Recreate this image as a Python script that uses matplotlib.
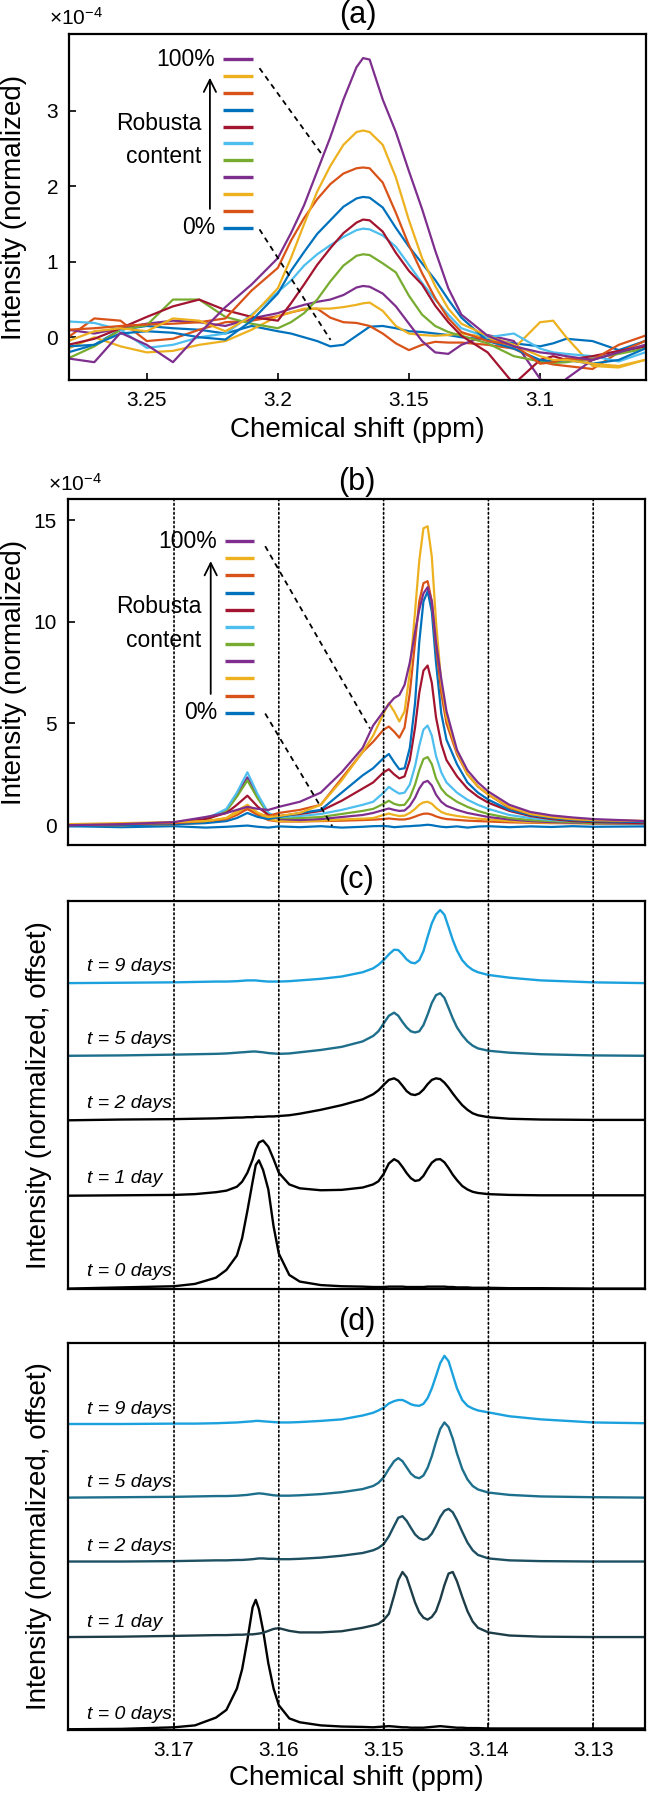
import matplotlib
matplotlib.use('Agg')
import matplotlib.pyplot as plt
from matplotlib.patches import ConnectionPatch

plt.rcParams['font.family'] = ['Liberation Sans', 'DejaVu Sans']
plt.rcParams['mathtext.fontset'] = 'custom'
plt.rcParams['mathtext.rm'] = 'Liberation Sans'
plt.rcParams['mathtext.it'] = 'Liberation Sans:italic'

########## data ##########
# (a) chemical shift grid (ppm) and spectra x1e-4, 0% ... 100% robusta
shift_a = [3.28, 3.27, 3.26, 3.25, 3.24, 3.23, 3.22, 3.21, 3.20, 3.195, 3.19, 3.185, 3.18, 3.175,
           3.17, 3.1675, 3.165, 3.16, 3.155, 3.15, 3.145, 3.14, 3.135, 3.13, 3.12, 3.11, 3.10,
           3.095, 3.09, 3.08, 3.07, 3.06]
a_r000 = [-0.20, -0.10, 0.10, 0.15, 0.12, 0.10, 0.05, 0.15, 0.08, 0.05, 0.00, -0.05, -0.12, -0.10,
          0.02, 0.08, 0.14, 0.15, 0.12, 0.08, 0.07, 0.05, 0.03, 0.00, -0.03, -0.08, -0.12,
          -0.08, -0.02, -0.05, -0.17, -0.05]
a_r010 = [0.00, 0.25, 0.22, -0.05, -0.02, 0.10, 0.20, 0.22, 0.28, 0.33, 0.37, 0.38, 0.26, 0.20,
          0.19, 0.17, 0.15, 0.05, -0.08, -0.17, -0.10, -0.06, -0.07, -0.07, -0.10, -0.15, -0.32,
          -0.36, -0.38, -0.42, -0.20, -0.05]
a_r020 = [-0.15, 0.00, -0.12, -0.20, -0.18, -0.10, -0.05, 0.10, 0.28, 0.33, 0.38, 0.38, 0.38, 0.40,
          0.43, 0.45, 0.46, 0.35, 0.15, 0.05, 0.03, 0.02, 0.03, 0.05, 0.00, -0.15, 0.20,
          0.22, 0.00, -0.38, -0.40, -0.30]
a_r030 = [0.10, 0.05, 0.12, 0.18, 0.22, 0.20, 0.15, 0.25, 0.32, 0.38, 0.43, 0.47, 0.50, 0.56,
          0.66, 0.68, 0.67, 0.58, 0.41, 0.18, -0.05, -0.20, -0.22, -0.10, 0.03, -0.05, -0.55,
          -0.75, -0.55, -0.30, -0.20, -0.12]
a_r040 = [-0.28, -0.12, 0.10, 0.16, 0.50, 0.50, 0.27, 0.18, 0.12, 0.20, 0.32, 0.50, 0.74, 0.95,
          1.08, 1.10, 1.09, 0.98, 0.86, 0.55, 0.30, 0.15, 0.07, 0.02, -0.08, -0.25, -0.32,
          -0.34, -0.33, -0.28, -0.22, -0.15]
a_r050 = [0.21, 0.19, 0.10, -0.14, -0.10, 0.00, 0.05, 0.30, 0.60, 0.75, 0.95, 1.10, 1.22, 1.33,
          1.42, 1.44, 1.43, 1.35, 1.20, 0.96, 0.72, 0.50, 0.30, 0.12, 0.00, 0.05, -0.15,
          -0.20, -0.22, -0.25, -0.32, -0.20]
a_r060 = [-0.10, -0.02, 0.12, 0.27, 0.41, 0.50, 0.36, 0.27, 0.22, 0.45, 0.70, 0.96, 1.18, 1.38,
          1.52, 1.56, 1.55, 1.40, 1.12, 0.88, 0.70, 0.42, 0.20, 0.02, -0.20, -0.62, -0.30,
          -0.25, -0.30, -0.25, -0.18, -0.12]
a_r070 = [-0.12, -0.10, 0.05, 0.08, 0.06, 0.00, -0.03, 0.22, 0.58, 0.88, 1.13, 1.37, 1.55, 1.73,
          1.84, 1.86, 1.85, 1.72, 1.45, 1.20, 0.98, 0.76, 0.50, 0.26, -0.05, -0.15, -0.30,
          -0.32, -0.30, -0.35, -0.30, -0.15]
a_r080 = [0.10, 0.12, 0.15, 0.17, 0.18, 0.20, 0.25, 0.62, 0.92, 1.28, 1.58, 1.83, 2.03, 2.17,
          2.24, 2.25, 2.24, 2.05, 1.65, 1.22, 0.85, 0.52, 0.25, 0.07, -0.05, -0.10, -0.35,
          -0.33, -0.28, -0.30, -0.10, 0.02]
a_r090 = [-0.05, 0.08, 0.12, 0.08, 0.25, 0.22, 0.08, 0.28, 0.65, 1.05, 1.50, 1.93, 2.27, 2.55,
          2.72, 2.74, 2.72, 2.55, 2.12, 1.55, 1.05, 0.68, 0.38, 0.18, 0.02, -0.10, -0.25,
          -0.30, -0.30, -0.35, -0.38, -0.30]
a_r100 = [-0.28, -0.33, 0.06, -0.10, -0.33, 0.05, 0.40, 0.70, 1.05, 1.38, 1.75, 2.20, 2.65, 3.15,
          3.58, 3.70, 3.68, 3.15, 2.72, 2.20, 1.70, 1.15, 0.65, 0.30, 0.02, -0.12, -0.20,
          -0.22, -0.25, -0.30, -0.20, -0.10]

# (b) x1e-4
shift_b = [3.180, 3.175, 3.170, 3.167, 3.165, 3.164, 3.163, 3.162, 3.161, 3.160, 3.158, 3.156,
           3.154, 3.152, 3.151, 3.150, 3.1495, 3.149, 3.1485, 3.148, 3.1475, 3.147, 3.1466,
           3.1462, 3.1458, 3.1454, 3.145, 3.1445, 3.144, 3.143, 3.142, 3.141, 3.140, 3.138,
           3.136, 3.134, 3.132, 3.130, 3.125]
b_r000 = [-0.05, -0.10, -0.05, -0.12, -0.08, -0.05, -0.02, -0.08, -0.12, -0.06, -0.10, -0.05,
          -0.12, -0.08, -0.05, -0.04, -0.06, -0.10, -0.08, -0.06, -0.05, -0.03, -0.02,
          0.00, 0.02, 0.00, -0.04, -0.08, -0.10, -0.06, -0.12, -0.07, -0.05, -0.10,
          -0.06, -0.09, -0.05, -0.08, -0.06]
b_r010 = [0.00, 0.00, 0.05, 0.12, 0.30, 0.55, 0.80, 0.50, 0.25, 0.18, 0.18, 0.20,
          0.22, 0.25, 0.27, 0.30, 0.33, 0.30, 0.28, 0.28, 0.33, 0.42, 0.50,
          0.56, 0.57, 0.52, 0.43, 0.35, 0.30, 0.26, 0.22, 0.20, 0.18, 0.14,
          0.12, 0.10, 0.10, 0.08, 0.08]
b_r020 = [0.00, 0.00, 0.05, 0.15, 0.35, 0.70, 1.00, 0.60, 0.30, 0.20, 0.20, 0.22,
          0.28, 0.32, 0.35, 0.50, 0.57, 0.50, 0.45, 0.47, 0.60, 0.80, 1.00,
          1.12, 1.15, 1.05, 0.85, 0.65, 0.55, 0.45, 0.38, 0.32, 0.28, 0.20,
          0.15, 0.12, 0.10, 0.10, 0.08]
b_r030 = [0.00, 0.02, 0.08, 0.25, 0.75, 1.50, 2.35, 1.40, 0.55, 0.30, 0.25, 0.30,
          0.40, 0.50, 0.60, 0.75, 0.82, 0.75, 0.70, 0.72, 0.95, 1.35, 1.80,
          2.10, 2.18, 1.95, 1.50, 1.15, 0.95, 0.75, 0.60, 0.50, 0.40, 0.28,
          0.20, 0.15, 0.12, 0.10, 0.08]
b_r040 = [0.00, 0.02, 0.08, 0.25, 0.70, 1.40, 2.20, 1.30, 0.55, 0.35, 0.35, 0.40,
          0.55, 0.70, 0.80, 1.05, 1.20, 1.05, 0.98, 1.00, 1.35, 2.00, 2.70,
          3.25, 3.35, 3.00, 2.30, 1.80, 1.50, 1.15, 0.90, 0.70, 0.55, 0.35,
          0.25, 0.20, 0.15, 0.10, 0.10]
b_r050 = [0.00, 0.02, 0.10, 0.30, 0.80, 1.60, 2.60, 1.50, 0.60, 0.40, 0.45, 0.55,
          0.75, 1.00, 1.15, 1.60, 1.88, 1.70, 1.55, 1.60, 2.00, 2.90, 3.90,
          4.70, 4.90, 4.40, 3.40, 2.60, 2.10, 1.60, 1.25, 1.00, 0.80, 0.50,
          0.35, 0.25, 0.20, 0.15, 0.10]
b_r060 = [0.00, 0.05, 0.10, 0.30, 0.60, 1.00, 1.45, 0.90, 0.50, 0.45, 0.55, 0.70,
          1.20, 1.80, 2.10, 2.60, 2.75, 2.50, 2.30, 2.40, 3.20, 4.80, 6.50,
          7.60, 7.85, 7.00, 5.30, 4.00, 3.20, 2.40, 1.80, 1.40, 1.10, 0.70,
          0.45, 0.30, 0.20, 0.15, 0.10]
b_r070 = [-0.05, 0.00, 0.05, 0.10, 0.20, 0.35, 0.60, 0.40, 0.30, 0.40, 0.60, 0.75,
          1.60, 2.45, 2.80, 3.30, 3.50, 3.10, 2.75, 2.80, 3.80, 6.00, 9.00,
          11.0, 11.5, 10.5, 8.00, 5.50, 4.20, 3.00, 2.10, 1.60, 1.25, 0.75,
          0.50, 0.35, 0.25, 0.20, 0.15]
b_r080 = [0.00, 0.05, 0.10, 0.20, 0.30, 0.50, 0.80, 0.55, 0.45, 0.60, 0.75, 1.00,
          2.30, 3.60, 4.10, 4.70, 4.85, 4.60, 4.30, 4.80, 6.50, 9.00, 11.0,
          11.9, 12.0, 11.0, 8.80, 6.50, 5.00, 3.50, 2.50, 1.90, 1.50, 0.85,
          0.55, 0.40, 0.30, 0.25, 0.20]
b_r090 = [0.05, 0.10, 0.15, 0.20, 0.35, 0.60, 0.95, 0.60, 0.40, 0.45, 0.60, 1.00,
          2.20, 3.60, 4.40, 5.50, 6.00, 5.60, 5.10, 5.60, 7.50, 10.5, 13.0,
          14.6, 14.7, 13.2, 10.0, 7.00, 5.30, 3.60, 2.50, 1.90, 1.50, 0.90,
          0.55, 0.40, 0.30, 0.25, 0.20]
b_r100 = [0.00, 0.05, 0.15, 0.40, 0.60, 0.75, 0.90, 0.80, 0.75, 0.90, 1.15, 1.60,
          2.60, 3.80, 4.90, 5.60, 5.95, 6.25, 6.40, 6.90, 8.00, 9.50, 10.6,
          11.4, 11.7, 11.0, 9.00, 7.20, 5.60, 3.70, 2.70, 2.10, 1.65, 1.00,
          0.65, 0.48, 0.38, 0.30, 0.20]

# (c), (d) offset spectra, arbitrary units
shift_cd = [3.180, 3.175, 3.170, 3.168, 3.166, 3.165, 3.164, 3.1635, 3.163, 3.1625,
            3.1622, 3.1619, 3.1615, 3.161, 3.1605, 3.160, 3.159, 3.158, 3.156, 3.154,
            3.152, 3.151, 3.1505, 3.150, 3.1495, 3.149, 3.1486, 3.1482, 3.1478, 3.1474,
            3.147, 3.1466, 3.1462, 3.1458, 3.1454, 3.145, 3.1446, 3.1442, 3.1438, 3.1434,
            3.143, 3.1425, 3.142, 3.1415, 3.141, 3.140, 3.138, 3.135, 3.130, 3.125]
c_t0 = [0.00, 0.03, 0.06, 0.12, 0.28, 0.48, 0.85, 1.30, 2.00, 2.75,
        3.18, 3.30, 3.05, 2.55, 1.60, 0.90, 0.35, 0.18, 0.09, 0.06,
        0.05, 0.04, 0.04, 0.04, 0.05, 0.05, 0.05, 0.05, 0.04, 0.04,
        0.04, 0.04, 0.04, 0.05, 0.05, 0.05, 0.05, 0.05, 0.04, 0.04,
        0.03, 0.03, 0.03, 0.02, 0.02, 0.02, 0.01, 0.01, 0.00, 0.00]
c_t1 = [2.39, 2.40, 2.41, 2.43, 2.48, 2.52, 2.62, 2.75, 2.98, 3.32,
        3.58, 3.76, 3.81, 3.65, 3.33, 2.98, 2.68, 2.58, 2.53, 2.54,
        2.60, 2.68, 2.76, 2.95, 3.22, 3.33, 3.27, 3.13, 2.97, 2.84,
        2.77, 2.79, 2.90, 3.08, 3.24, 3.32, 3.33, 3.25, 3.10, 2.93,
        2.79, 2.64, 2.55, 2.49, 2.46, 2.43, 2.41, 2.40, 2.40, 2.40]
c_t2 = [4.33, 4.35, 4.36, 4.37, 4.38, 4.39, 4.40, 4.40, 4.41, 4.41,
        4.42, 4.42, 4.42, 4.43, 4.43, 4.44, 4.46, 4.50, 4.60, 4.72,
        4.87, 5.00, 5.10, 5.24, 5.37, 5.41, 5.35, 5.22, 5.08, 5.00,
        4.98, 5.02, 5.12, 5.26, 5.37, 5.41, 5.39, 5.30, 5.17, 5.02,
        4.88, 4.72, 4.60, 4.51, 4.46, 4.41, 4.37, 4.35, 4.34, 4.34]
c_t5 = [5.99, 6.00, 6.02, 6.03, 6.04, 6.05, 6.07, 6.08, 6.09, 6.10,
        6.10, 6.09, 6.08, 6.06, 6.05, 6.04, 6.05, 6.08, 6.14, 6.22,
        6.36, 6.50, 6.62, 6.82, 7.02, 7.10, 7.02, 6.86, 6.72, 6.62,
        6.59, 6.62, 6.78, 7.05, 7.35, 7.55, 7.60, 7.48, 7.22, 6.95,
        6.72, 6.52, 6.36, 6.25, 6.18, 6.12, 6.07, 6.03, 6.00, 5.99]
c_t9 = [7.86, 7.87, 7.88, 7.89, 7.90, 7.90, 7.91, 7.92, 7.93, 7.93,
        7.93, 7.92, 7.91, 7.90, 7.90, 7.90, 7.91, 7.93, 7.97, 8.03,
        8.14, 8.24, 8.33, 8.45, 8.60, 8.72, 8.71, 8.60, 8.47, 8.39,
        8.37, 8.45, 8.68, 9.05, 9.40, 9.63, 9.74, 9.62, 9.30, 8.97,
        8.70, 8.45, 8.30, 8.20, 8.14, 8.07, 8.00, 7.93, 7.88, 7.86]
d_t0 = [0.00, 0.01, 0.05, 0.10, 0.30, 0.50, 1.05, 1.55, 2.30, 3.15,
        3.34, 3.10, 2.55, 1.70, 1.05, 0.62, 0.28, 0.18, 0.10, 0.07,
        0.06, 0.05, 0.06, 0.07, 0.08, 0.07, 0.06, 0.05, 0.05, 0.04,
        0.04, 0.04, 0.04, 0.05, 0.06, 0.07, 0.08, 0.07, 0.06, 0.05,
        0.04, 0.04, 0.03, 0.03, 0.03, 0.02, 0.02, 0.02, 0.02, 0.02]
d_t1 = [2.38, 2.39, 2.41, 2.42, 2.43, 2.43, 2.44, 2.44, 2.45, 2.45,
        2.46, 2.47, 2.49, 2.54, 2.59, 2.61, 2.54, 2.50, 2.50, 2.53,
        2.62, 2.68, 2.72, 2.82, 2.98, 3.45, 3.85, 4.06, 3.92, 3.60,
        3.27, 3.02, 2.88, 2.83, 2.90, 3.05, 3.35, 3.72, 4.02, 4.06,
        3.82, 3.42, 3.05, 2.78, 2.62, 2.50, 2.42, 2.39, 2.38, 2.38]
d_t2 = [4.33, 4.33, 4.34, 4.35, 4.36, 4.36, 4.37, 4.37, 4.38, 4.39,
        4.40, 4.41, 4.41, 4.40, 4.40, 4.39, 4.39, 4.40, 4.43, 4.48,
        4.55, 4.62, 4.68, 4.78, 4.98, 5.25, 5.46, 5.50, 5.38, 5.20,
        5.03, 4.93, 4.89, 4.93, 5.05, 5.25, 5.48, 5.64, 5.69, 5.60,
        5.40, 5.10, 4.82, 4.62, 4.50, 4.41, 4.36, 4.34, 4.33, 4.33]
d_t5 = [5.98, 5.99, 6.00, 6.01, 6.02, 6.02, 6.03, 6.04, 6.05, 6.07,
        6.08, 6.09, 6.08, 6.06, 6.04, 6.03, 6.03, 6.04, 6.07, 6.12,
        6.20, 6.28, 6.36, 6.50, 6.72, 6.92, 7.00, 6.92, 6.76, 6.60,
        6.51, 6.48, 6.55, 6.75, 7.05, 7.42, 7.75, 7.92, 7.80, 7.50,
        7.12, 6.72, 6.45, 6.28, 6.19, 6.11, 6.05, 6.01, 5.99, 5.98]
d_t9 = [7.88, 7.88, 7.89, 7.89, 7.90, 7.91, 7.92, 7.93, 7.94, 7.95,
        7.96, 7.96, 7.95, 7.94, 7.93, 7.92, 7.92, 7.93, 7.96, 8.00,
        8.10, 8.17, 8.23, 8.30, 8.41, 8.47, 8.50, 8.50, 8.45, 8.39,
        8.36, 8.35, 8.40, 8.55, 8.80, 9.12, 9.45, 9.64, 9.50, 9.15,
        8.80, 8.50, 8.35, 8.28, 8.23, 8.18, 8.08, 8.00, 7.92, 7.90]

time_labels = ['t = 0 days', 't = 1 day', 't = 2 days', 't = 5 days', 't = 9 days']
grid_lines = [3.17, 3.16, 3.15, 3.14, 3.13]

#### matlab default color order
mat = ['#0072BD', '#D95319', '#EDB120', '#7E2F8E', '#77AC30', '#4DBEEE', '#A2142F']
rob_colors = [mat[i % 7] for i in range(11)]
c_colors = ['#000000', '#000000', '#000000', '#1D6F8C', '#1BA1DE']
d_colors = ['#000000', '#1D3E48', '#1C5062', '#1D6F8C', '#1BA1DE']

spectra_a = [a_r000, a_r010, a_r020, a_r030, a_r040, a_r050, a_r060, a_r070, a_r080, a_r090, a_r100]
spectra_b = [b_r000, b_r010, b_r020, b_r030, b_r040, b_r050, b_r060, b_r070, b_r080, b_r090, b_r100]
spectra_c = [c_t0, c_t1, c_t2, c_t5, c_t9]
spectra_d = [d_t0, d_t1, d_t2, d_t5, d_t9]

##########################################################################################
fig = plt.figure(figsize=(6.48, 17.95), dpi=100)
ax_a = fig.add_axes([0.1071, 0.7883, 0.8898, 0.1928])
ax_b = fig.add_axes([0.1052, 0.5292, 0.8895, 0.1928])
ax_c = fig.add_axes([0.1052, 0.2817, 0.8895, 0.2165])
ax_d = fig.add_axes([0.1052, 0.0362, 0.8895, 0.2158])

LAB = 20
TICK = 15


def frame(ax):
    for s in ax.spines.values():
        s.set_linewidth(1.6)
    ax.tick_params(direction='in', length=5, width=1.2, labelsize=TICK, pad=8,
                   top=False, right=False)


def robusta_key(ax, bx0, bx1, ytop, ybot, txt_x, rob_x, rob_y, con_y, arr_x, arr_top, arr_bot):
    tr = ax.transAxes
    for i, col in enumerate(rob_colors):
        yy = ybot + (ytop - ybot) * i / 10.0
        ax.plot([bx0, bx1], [yy, yy], color=col, lw=2.4, transform=tr, clip_on=False,
                solid_capstyle='butt')
    ax.text(txt_x, ytop, '100%', transform=tr, ha='right', va='center', fontsize=16.5)
    ax.text(txt_x, ybot, '0%', transform=tr, ha='right', va='center', fontsize=16.5)
    ax.text(rob_x, rob_y, 'Robusta', transform=tr, ha='right', va='center', fontsize=16.5)
    ax.text(rob_x, con_y, 'content', transform=tr, ha='right', va='center', fontsize=16.5)
    ax.annotate('', xy=(arr_x, arr_top), xytext=(arr_x, arr_bot), xycoords='axes fraction',
                arrowprops=dict(arrowstyle='->', lw=1.3, color='k', mutation_scale=22))


########## (a)
for i in range(11):
    ax_a.plot(shift_a, spectra_a[i], color=rob_colors[i], lw=1.6, solid_joinstyle='round')
ax_a.set_xlim(3.2795, 3.0596)
ax_a.set_ylim(-0.566, 4.02)
ax_a.set_xticks([3.25, 3.2, 3.15, 3.1])
ax_a.set_xticklabels(['3.25', '3.2', '3.15', '3.1'])
ax_a.set_yticks([0, 1, 2, 3])
frame(ax_a)
ax_a.plot([3.207, 3.1826], [3.566, 2.395], 'k--', lw=1.3, dashes=(3, 2.5))
ax_a.plot([3.207, 3.1799], [1.43, -0.035], 'k--', lw=1.3, dashes=(3, 2.5))
robusta_key(ax_a, 0.2666, 0.3183, 0.9269, 0.4402, 0.2525, 0.2290, 0.741, 0.646,
            0.2437, 0.8815, 0.4864)
ax_a.text(0.5, 1.055, '(a)', transform=ax_a.transAxes, ha='center', va='center', fontsize=22)
ax_a.text(0.012, 1.046, '×10$^{-4}$', transform=ax_a.transAxes, ha='center', va='center',
          fontsize=15)
ax_a.text(-0.096, 0.5, 'Intensity (normalized)', transform=ax_a.transAxes, rotation=90,
          ha='center', va='center', fontsize=LAB)
ax_a.text(0.5, -0.1445, 'Chemical shift (ppm)', transform=ax_a.transAxes, ha='center',
          va='center', fontsize=LAB)

########## (b)
for i in range(11):
    ax_b.plot(shift_b, spectra_b[i], color=rob_colors[i], lw=1.6, solid_joinstyle='round')
ax_b.set_xlim(3.1801, 3.1251)
ax_b.set_ylim(-0.98, 16.04)
ax_b.set_xticks([])
ax_b.set_yticks([0, 5, 10, 15])
frame(ax_b)
ax_b.plot([3.1613, 3.1513], [13.72, 4.75], 'k--', lw=1.3, dashes=(3, 2.5))
ax_b.plot([3.1613, 3.1549], [5.49, -0.05], 'k--', lw=1.3, dashes=(3, 2.5))
robusta_key(ax_b, 0.2724, 0.3226, 0.8786, 0.3824, 0.2580, 0.2316, 0.6888, 0.5925,
            0.2473, 0.8286, 0.4286)
ax_b.text(0.5, 1.049, '(b)', transform=ax_b.transAxes, ha='center', va='center', fontsize=22)
ax_b.text(0.012, 1.043, '×10$^{-4}$', transform=ax_b.transAxes, ha='center', va='center',
          fontsize=15)
ax_b.text(-0.094, 0.5, 'Intensity (normalized)', transform=ax_b.transAxes, rotation=90,
          ha='center', va='center', fontsize=LAB)

########## (c) and (d)
for ax, spectra, cols, off, tag in [(ax_c, spectra_c, c_colors, 0.43, '(c)'),
                                     (ax_d, spectra_d, d_colors, 0.38, '(d)')]:
    for k in range(5):
        ax.plot(shift_cd, spectra[k], color=cols[k], lw=1.7, solid_joinstyle='round')
        ax.text(0.032, spectra[k][0] + off, time_labels[k], transform=ax.get_yaxis_transform(),
                ha='left', va='center', fontsize=14, style='italic')
    ax.set_xlim(3.1801, 3.1251)
    ax.set_ylim(-0.02, 9.98)
    ax.set_yticks([])
    frame(ax)
    ax.text(0.5, 1.054, tag, transform=ax.transAxes, ha='center', va='center', fontsize=22)
    ax.text(-0.0507, 0.5, 'Intensity (normalized, offset)', transform=ax.transAxes,
            rotation=90, ha='center', va='center', fontsize=LAB)
ax_c.set_xticks([])
ax_d.set_xticks(grid_lines)
ax_d.set_xticklabels(['3.17', '3.16', '3.15', '3.14', '3.13'])
ax_d.text(0.5, -0.124, 'Chemical shift (ppm)', transform=ax_d.transAxes, ha='center',
          va='center', fontsize=LAB)

# dotted guide lines running from the top of (b) down to the bottom of (d)
for g in grid_lines:
    con = ConnectionPatch(xyA=(g, 16.04), coordsA=ax_b.transData,
                          xyB=(g, -0.02), coordsB=ax_d.transData,
                          color='k', lw=1.2, linestyle=(0, (1, 1.7)))
    fig.add_artist(con)

fig.savefig('out.png', dpi=100)
